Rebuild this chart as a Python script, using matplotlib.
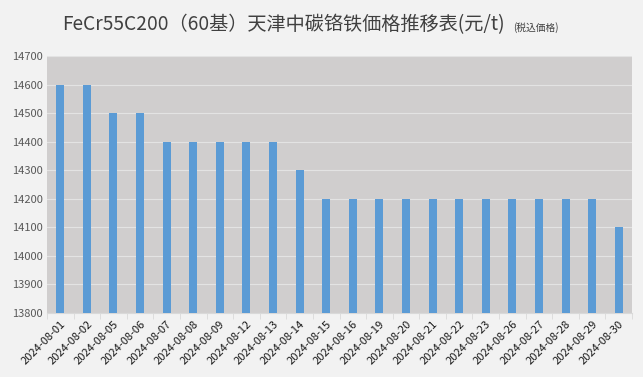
import matplotlib
matplotlib.use("Agg")
import matplotlib.pyplot as plt
import numpy as np

plt.rcParams['font.family'] = ['Noto Sans CJK JP', 'DejaVu Sans']

# data
dates = ["2024-08-01", "2024-08-02", "2024-08-05", "2024-08-06", "2024-08-07",
         "2024-08-08", "2024-08-09", "2024-08-12", "2024-08-13", "2024-08-14",
         "2024-08-15", "2024-08-16", "2024-08-19", "2024-08-20", "2024-08-21",
         "2024-08-22", "2024-08-23", "2024-08-26", "2024-08-27", "2024-08-28",
         "2024-08-29", "2024-08-30"]
prices = [14600, 14600, 14500, 14500, 14400, 14400, 14400, 14400, 14400, 14300,
          14200, 14200, 14200, 14200, 14200, 14200, 14200, 14200, 14200, 14200,
          14200, 14100]
yticks = list(range(13800, 14701, 100))

fig = plt.figure(figsize=(6.43, 3.77), dpi=100, facecolor='#f2f2f2')
ax = fig.add_axes([47/643, 1-313/377, 585/643, 257/377])
ax.set_facecolor('#d0cece')

x = np.arange(len(dates))
ax.bar(x, prices, width=0.3, color='#5b9bd5', zorder=3)
ax.set_ylim(13800, 14700)
ax.set_xlim(-0.5, len(dates) - 0.5)
ax.set_yticks(yticks)
ax.yaxis.grid(True, color='#e3e3e3', linewidth=0.8, zorder=0)
ax.set_axisbelow(True)

for s in ax.spines.values():
    s.set_visible(False)
ax.spines['bottom'].set_visible(True)
ax.spines['bottom'].set_color('#d9d9d9')

ax.tick_params(axis='y', length=0, labelsize=8, labelcolor='#595959', pad=3)
ax.set_xticks(x)
ax.set_xticklabels(dates, rotation=45, ha='right', rotation_mode='anchor',
                   fontsize=8, color='#1a1a1a')
ax.tick_params(axis='x', length=0, pad=4)
ax.set_xticks(np.arange(-0.5, len(dates), 1), minor=True)
ax.tick_params(axis='x', which='minor', length=4, color='#d9d9d9')

fig.text(62/643, 1-25/377, "FeCr55C200（60基）天津中碳铬铁価格推移表(元/t)",
         ha='left', va='center', fontsize=13.8, color='#404040')
fig.text(513/643, 1-28/377, "(税込価格)", ha='left', va='center', fontsize=7,
         color='#404040')

fig.savefig('out.png', dpi=100, facecolor=fig.get_facecolor())
